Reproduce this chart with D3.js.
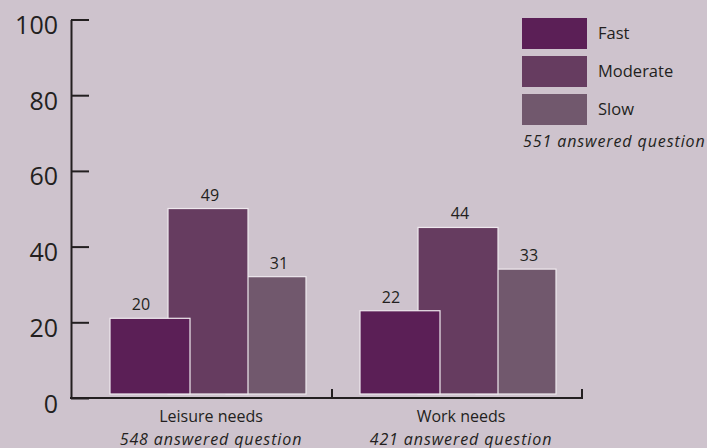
<!DOCTYPE html>
<html>
<head>
<meta charset="utf-8">
<script src="https://cdn.jsdelivr.net/npm/d3@7/dist/d3.min.js"></script>
<style>
  html, body { margin: 0; padding: 0; background: #cec3cd; }
  svg { display: block; }
  text { font-family: "Open Sans", "Noto Sans", sans-serif; fill: #231f20; }
</style>
</head>
<body>
<svg id="chart" width="707" height="448"></svg>
<script>
// Survey responses on preferred pace, by need type
const categories = ["Leisure needs", "Work needs"];
const answered = ["548 answered question", "421 answered question"];
const series = ["Fast", "Moderate", "Slow"];
const fastValues = [20, 22];
const moderateValues = [49, 44];
const slowValues = [31, 33];
const yTicks = [0, 20, 40, 60, 80, 100];
const legendNote = "551 answered question";

const valuesBySeries = [fastValues, moderateValues, slowValues];
const colors = ["#5b1f56", "#663c60", "#71586d"];

const svg = d3.select("#chart");

const y = d3.scaleLinear().domain([0, 100]).range([398, 19.5]);
const x = d3.scaleBand().domain(categories).range([83, 583]).padding(0);
// offsets of the overlapping bars within a group
const offset = d3.scalePoint().domain(series).range([-58, 58]);
const labelOffset = d3.scalePoint().domain(series).range([-67, 71]);
const barW = 80;
const lift = 4; // bars sit just above the axis line

const axisX = 71;

// y axis
const yAxis = d3.axisLeft(y).tickValues(yTicks).tickSize(0).tickPadding(13).tickFormat(d3.format("d"));
const gy = svg.append("g").attr("transform", `translate(${axisX},0)`).call(yAxis);
gy.select(".domain").attr("stroke", "#231f20").attr("stroke-width", 2);
gy.selectAll(".tick text")
  .attr("font-size", 25)
  .attr("dy", "0.56em")
  .style("font-family", "'Open Sans', sans-serif")
  .attr("fill", "#231f20");
gy.selectAll(".tick").append("line")
  .attr("x1", 0).attr("x2", 18)
  .attr("stroke", "#231f20").attr("stroke-width", 2);

// bars: draw slow first so faster bars overlap them
const groups = svg.append("g");
categories.forEach((cat, ci) => {
  const cx = x(cat) + x.bandwidth() / 2;
  for (let si = series.length - 1; si >= 0; si--) {
    const s = series[si];
    const v = valuesBySeries[si][ci];
    groups.append("rect")
      .attr("x", cx + offset(s) - barW / 2)
      .attr("y", y(v) - lift)
      .attr("width", barW)
      .attr("height", y(0) - y(v))
      .attr("fill", colors[si])
      .attr("stroke", "#efe9ee")
      .attr("stroke-width", 1.2);
  }
  series.forEach((s, si) => {
    const v = valuesBySeries[si][ci];
    groups.append("text")
      .attr("x", cx + labelOffset(s))
      .attr("y", y(v) - lift - 8)
      .attr("text-anchor", "middle")
      .attr("font-size", 16)
      .attr("fill", "#333")
      .text(v);
  });
  // category labels
  svg.append("text")
    .attr("x", cx + 3).attr("y", 422)
    .attr("text-anchor", "middle").attr("font-size", 16)
    .text(cat);
  svg.append("text")
    .attr("x", cx + 3).attr("y", 445)
    .attr("text-anchor", "middle").attr("font-size", 16)
    .attr("font-style", "italic")
    .attr("letter-spacing", 0.9)
    .text(answered[ci]);
});

// x axis line with group dividers
const xEnd = x.range()[1] - 1;
svg.append("line")
  .attr("x1", axisX - 1).attr("x2", xEnd + 1)
  .attr("y1", y(0)).attr("y2", y(0))
  .attr("stroke", "#231f20").attr("stroke-width", 2);
categories.forEach(cat => {
  const tx = x(cat) + x.bandwidth() - 1;
  svg.append("line")
    .attr("x1", tx).attr("x2", tx)
    .attr("y1", y(0)).attr("y2", y(0) - 9)
    .attr("stroke", "#231f20").attr("stroke-width", 2);
});

// legend
const lg = svg.append("g").attr("transform", "translate(522,18)");
series.forEach((s, i) => {
  lg.append("rect").attr("x", 0).attr("y", i * 38).attr("width", 65).attr("height", 31).attr("fill", colors[i]);
  lg.append("text").attr("x", 76).attr("y", i * 38 + 21).attr("font-size", 16.5).text(s);
});
lg.append("text").attr("x", 1).attr("y", 129).attr("font-size", 16)
  .attr("font-style", "italic").attr("letter-spacing", 0.9).text(legendNote);
</script>
</body>
</html>
